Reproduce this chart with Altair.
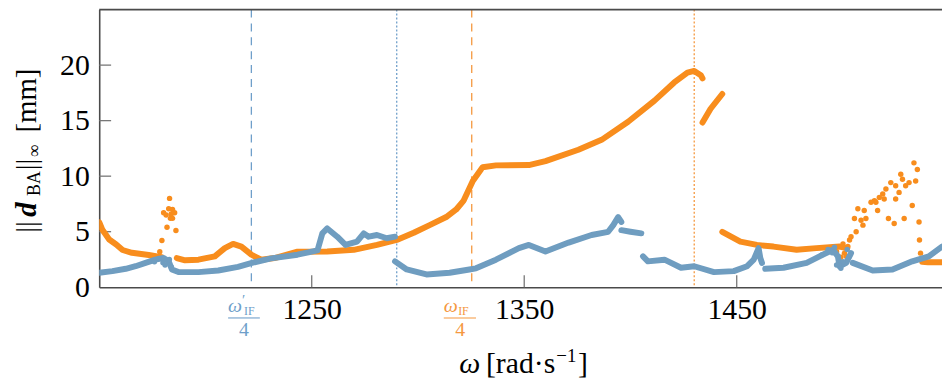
import altair as alt
import pandas as pd

# ---------------- data ----------------
# omega [rad/s] and ||d_BA||_inf [mm]
orange_seg1_w = [1150.0, 1151.4, 1154.7, 1158.0, 1161.0, 1165.4, 1173.3, 1179.4]
orange_seg1_v = [5.85, 5.2, 4.3, 3.85, 3.35, 3.1, 2.9, 2.7]

orange_seg2_w = [1186.5, 1190.4, 1196.7, 1204.4, 1209.1, 1213.0, 1216.9, 1221.6, 1226.2,
                 1232.5, 1243.3, 1257.3, 1269.8, 1280.7, 1290.0, 1298.0, 1305.5, 1313.3,
                 1318.0, 1321.5, 1325.8, 1330.4, 1336.7, 1352.2, 1360.0, 1375.5, 1386.4,
                 1398.9, 1411.3, 1420.6, 1426.8, 1430.0, 1433.1, 1433.9]
orange_seg2_v = [2.63, 2.42, 2.48, 2.78, 3.52, 3.9, 3.66, 2.93, 2.48,
                 2.63, 3.2, 3.22, 3.37, 3.81, 4.26, 4.9, 5.59, 6.32,
                 7.0, 7.8, 9.57, 10.8, 10.97, 11.0, 11.35, 12.38, 13.27,
                 14.9, 16.8, 18.44, 19.33, 19.48, 19.09, 18.8]

orange_seg3_w = [1433.9, 1437.7, 1443.2]
orange_seg3_v = [14.83, 16.07, 17.4]

orange_seg4_w = [1443.2, 1451.7, 1459.5, 1467.3, 1478.2, 1487.5, 1498.4, 1502.0]
orange_seg4_v = [4.99, 4.1, 3.81, 3.66, 3.37, 3.52, 3.66, 3.5]

orange_seg5_w = [1537.3, 1540.0, 1546.6]
orange_seg5_v = [2.3, 2.25, 2.25]

orange_pts1_w = [1178.5, 1179.5, 1181.9, 1183.5, 1180.3, 1182.7, 1183.1, 1184.5, 1185.5,
                 1184.5, 1186.1, 1181.5, 1183.9]
orange_pts1_v = [3.2, 4.2, 5.4, 6.2, 6.7, 7.07, 8.0, 7.0, 6.7, 6.2, 5.1, 6.5, 6.6]

orange_pts2_w = [1497.0, 1499.0, 1500.0,
                 1500.7, 1501.5, 1502.3, 1503.1, 1503.8, 1505.4, 1506.2, 1507.0, 1508.5,
                 1509.4, 1510.0, 1510.8, 1513.2, 1514.8, 1515.5, 1516.3, 1517.1, 1518.7,
                 1519.4, 1520.2, 1521.4, 1522.5, 1524.1, 1524.8, 1524.8, 1526.4, 1527.2,
                 1528.0, 1528.8, 1529.5, 1531.1, 1532.6, 1533.4, 1534.2, 1535.0, 1535.8,
                 1536.0, 1536.5]
orange_pts2_v = [3.2, 2.7, 3.9,
                 3.07, 2.78, 3.66, 4.26, 4.55, 6.18, 4.99, 7.07, 6.03,
                 5.59, 6.91, 6.18, 7.65, 7.8, 7.65, 6.91, 8.09, 8.39,
                 7.95, 8.84, 6.18, 9.42, 5.73, 9.13, 7.95, 8.54, 10.17,
                 9.73, 6.18, 9.13, 9.42, 7.36, 11.2, 9.57, 10.6, 5.88,
                 4.26, 3.07]

blue_seg1_w = [1150.0, 1156.2, 1162.5, 1167.1, 1171.8, 1176.4, 1180.3, 1182.7, 1184.2,
               1187.3, 1196.7, 1206.0, 1215.3, 1223.1, 1230.9, 1243.3, 1252.7, 1255.0,
               1257.3, 1262.0, 1265.9, 1271.3, 1274.5, 1276.8, 1280.7, 1285.3, 1289.2]
blue_seg1_v = [1.3, 1.45, 1.66, 1.89, 2.19, 2.48, 2.63, 2.33, 1.6,
               1.36, 1.36, 1.51, 1.83, 2.25, 2.6, 2.93, 3.31, 4.85,
               5.29, 4.55, 3.81, 4.1, 4.85, 4.55, 4.7, 4.41, 4.55]

blue_seg2_w = [1289.2, 1294.7, 1304.0, 1314.9, 1324.2, 1327.3, 1336.7, 1347.5, 1352.2,
               1360.0, 1370.9, 1381.7, 1389.5, 1391.9, 1394.2, 1395.7]
blue_seg2_v = [2.33, 1.6, 1.15, 1.3, 1.6, 1.7, 2.48, 3.52, 3.81,
               3.22, 4.02, 4.7, 4.99, 5.59, 6.32, 5.88]

blue_seg3_w = [1395.7, 1400.0, 1405.1]
blue_seg3_v = [5.14, 5.0, 4.85]

blue_seg4_w = [1405.9, 1408.2, 1416.0, 1423.8, 1430.0, 1439.3, 1448.6, 1454.9, 1458.0,
               1460.3, 1461.1, 1461.9]
blue_seg4_v = [2.78, 2.33, 2.48, 1.75, 1.89, 1.36, 1.45, 1.89, 2.48,
               3.52, 2.63, 2.19]

blue_seg5_w = [1463.4, 1472.0, 1482.9, 1490.6, 1495.3, 1497.6, 1498.4, 1501.5, 1503.8]
blue_seg5_v = [1.66, 1.75, 2.19, 2.93, 3.37, 2.78, 1.89, 2.19, 3.07]

blue_seg6_w = [1504.6, 1514.0, 1523.3, 1532.6, 1540.4, 1546.6]
blue_seg6_v = [2.19, 1.51, 1.6, 2.33, 2.78, 3.66]

blue_pts_w = [1176.0, 1178.0, 1180.0, 1181.0, 1183.0, 1184.0,
              1490.0, 1493.0, 1495.0, 1496.0, 1497.0, 1499.0, 1500.0, 1502.0, 1503.0]
blue_pts_v = [2.3, 2.6, 2.2, 2.0, 2.5, 1.8,
              2.9, 3.4, 3.1, 3.6, 2.0, 1.7, 2.3, 3.4, 2.8]

x_tick_values = [1250, 1350, 1450]
y_tick_values = [0, 5, 10, 15, 20]
inner_y_ticks = [5, 10, 15, 20]
marker_blue_dashed = 1221.6
marker_blue_dotted = 1290.0
marker_orange_dashed = 1325.3
marker_orange_dotted = 1430.0

# ---------------- styling ----------------
ORANGE = "#f88d1d"
BLUE = "#6f9dc0"
ORANGE_LIGHT = "#f5983f"
BLUE_LIGHT = "#6f9fca"
AX = "#4a4a4a"
FONT = "Liberation Serif"
W, H = 850, 280

xs = alt.Scale(domain=[1150, 1546.6], nice=False, zero=False)
ys = alt.Scale(domain=[0, 25], nice=False, zero=False)


def seg_df(segs):
    rows = []
    for k, (ws, vs) in enumerate(segs):
        for i, (w, v) in enumerate(zip(ws, vs)):
            rows.append({"seg": k, "i": i, "w": w, "v": v})
    return pd.DataFrame(rows)


orange_lines = seg_df([(orange_seg1_w, orange_seg1_v), (orange_seg2_w, orange_seg2_v),
                       (orange_seg3_w, orange_seg3_v), (orange_seg4_w, orange_seg4_v),
                       (orange_seg5_w, orange_seg5_v)])
blue_lines = seg_df([(blue_seg1_w, blue_seg1_v), (blue_seg2_w, blue_seg2_v),
                     (blue_seg3_w, blue_seg3_v), (blue_seg4_w, blue_seg4_v),
                     (blue_seg5_w, blue_seg5_v), (blue_seg6_w, blue_seg6_v)])
orange_pts = pd.DataFrame({"w": orange_pts1_w + orange_pts2_w,
                           "v": orange_pts1_v + orange_pts2_v})
blue_pts = pd.DataFrame({"w": blue_pts_w, "v": blue_pts_v})

xaxis = alt.Axis(values=x_tick_values, title=None, format="d", labelPadding=8,
                 labelFont=FONT, labelFontSize=30, labelColor="black")
yaxis = alt.Axis(values=y_tick_values, title=None, format="d", labelPadding=10,
                 labelFont=FONT, labelFontSize=30, labelColor="black")


def line_layer(df, color):
    return alt.Chart(df).mark_line(
        color=color, strokeWidth=6, strokeCap="round", strokeJoin="round", clip=True
    ).encode(
        x=alt.X("w:Q", scale=xs, axis=xaxis),
        y=alt.Y("v:Q", scale=ys, axis=yaxis),
        detail="seg:N",
        order="i:Q",
    )


def pts_layer(df, color):
    return alt.Chart(df).mark_circle(color=color, size=30, opacity=1, clip=True).encode(
        x=alt.X("w:Q", scale=xs, axis=xaxis), y=alt.Y("v:Q", scale=ys, axis=yaxis))


def vline(w, color, dash):
    return alt.Chart(pd.DataFrame({"w": [w]})).mark_rule(
        color=color, strokeDash=dash, strokeWidth=1.3
    ).encode(x=alt.X("w:Q", scale=xs, axis=xaxis))


def txt(text, x, y, size, color="black", style="normal", weight="normal",
        angle=0, align="left", baseline="alphabetic"):
    return alt.Chart(pd.DataFrame({"t": [text]})).mark_text(
        font=FONT, fontSize=size, fontStyle=style, fontWeight=weight, color=color,
        angle=angle, align=align, baseline=baseline
    ).encode(x=alt.value(x), y=alt.value(y), text="t:N")


def hbar(x1, x2, y, color):
    return alt.Chart(pd.DataFrame({"a": [0]})).mark_rule(color=color, strokeWidth=1.1).encode(
        x=alt.value(x1), x2=alt.value(x2), y=alt.value(y))


layers = []
# marker lines
layers += [vline(marker_blue_dashed, BLUE_LIGHT, [8, 6]),
           vline(marker_blue_dotted, BLUE_LIGHT, [2, 2]),
           vline(marker_orange_dashed, ORANGE_LIGHT, [8, 6]),
           vline(marker_orange_dotted, ORANGE_LIGHT, [2, 2])]

# inward ticks and top frame
layers.append(alt.Chart(pd.DataFrame({"w": x_tick_values})).mark_rule(
    color="#777777", strokeWidth=1.3).encode(
    x=alt.X("w:Q", scale=xs, axis=xaxis), y=alt.value(H), y2=alt.value(H - 12)))
layers.append(alt.Chart(pd.DataFrame({"v": inner_y_ticks})).mark_rule(
    color="#777777", strokeWidth=1.3).encode(
    y=alt.Y("v:Q", scale=ys, axis=yaxis), x=alt.value(0), x2=alt.value(12)))
layers.append(alt.Chart(pd.DataFrame({"a": [0]})).mark_rule(
    color=AX, strokeWidth=1.6).encode(x=alt.value(0), x2=alt.value(W), y=alt.value(0)))

# data
layers.append(line_layer(orange_lines, ORANGE))
layers.append(pts_layer(orange_pts, ORANGE))
layers.append(line_layer(blue_lines, BLUE))
layers.append(pts_layer(blue_pts, BLUE))

# fraction labels under the axis
layers += [
    txt("ω", 130, 305, 20, BLUE_LIGHT, style="italic"),
    txt("′", 144, 298, 15, BLUE_LIGHT),
    txt("IF", 146, 308, 12, BLUE_LIGHT),
    hbar(130, 162, 311, BLUE_LIGHT),
    txt("4", 146, 329, 20, BLUE_LIGHT, align="center"),
    txt("ω", 347.5, 305, 20, ORANGE_LIGHT, style="italic"),
    txt("IF", 362, 308, 12, ORANGE_LIGHT),
    hbar(347.5, 380, 311, ORANGE_LIGHT),
    txt("4", 364, 329, 20, ORANGE_LIGHT, align="center"),
]

# x-axis title: ω [rad·s^-1]
layers += [
    txt("ω", 363, 367, 30, style="italic"),
    txt("[rad·s", 390, 367, 30),
    txt("−1", 461, 355, 19),
    txt("]", 483, 367, 30),
]

# y-axis title: ||d_BA||_∞ [mm]  (rotated, reading upward)
layers += [
    txt("||", -73, 225, 29, angle=270, baseline="middle"),
    txt("d", -73, 209, 29, style="italic", weight="bold", angle=270, baseline="middle"),
    txt("BA", -65, 188, 18, angle=270, baseline="middle"),
    txt("||", -73, 162, 29, angle=270, baseline="middle"),
    txt("∞", -65, 149, 18, angle=270, baseline="middle"),
    txt("[mm]", -73, 124, 29, angle=270, baseline="middle"),
]

chart = alt.layer(*layers).properties(
    width=W, height=H,
    autosize=alt.AutoSizeParams(type="none"),
    padding={"left": 92, "top": 0, "right": 0, "bottom": 96},
).configure_view(stroke=None).configure_axis(
    labelFont=FONT, labelFontSize=30, labelColor="black",
    domainColor=AX, domainWidth=1.6, ticks=False, tickSize=0, grid=False,
)

chart.save("out.html", embed_options={"renderer": "svg", "actions": False})
